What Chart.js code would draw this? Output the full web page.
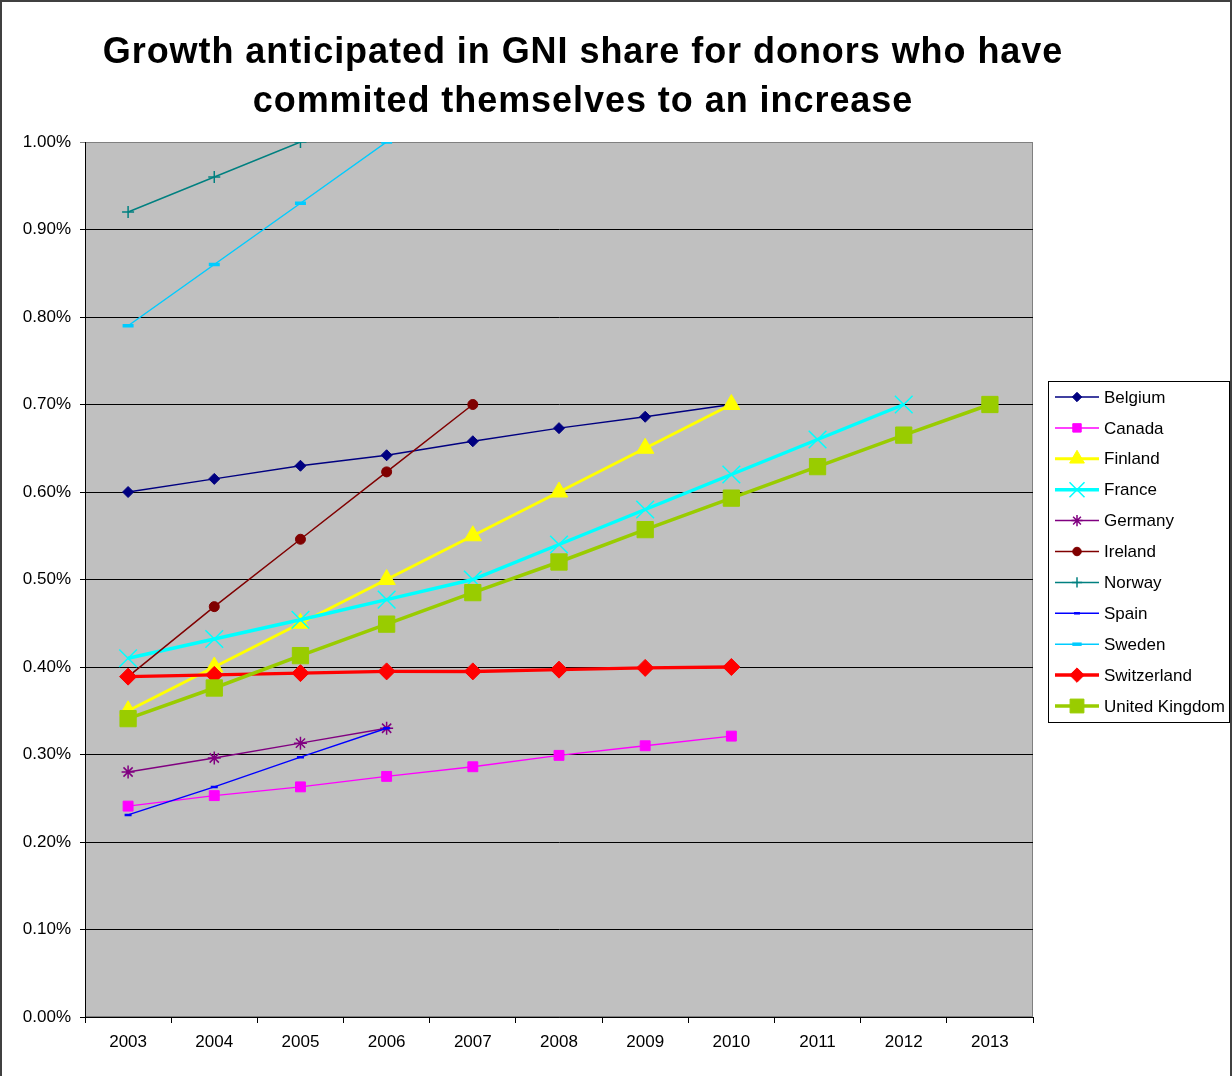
<!DOCTYPE html>
<html>
<head>
<meta charset="utf-8">
<title>GNI share growth</title>
<script src="https://cdn.jsdelivr.net/npm/chart.js@4/dist/chart.umd.min.js"></script>
<style>
    body { margin: 0; background: #fff; }
    #wrap { position: relative; width: 1232px; height: 1076px; overflow: hidden; }
    #frame { position: absolute; left: 0; top: 0; width: 1228px; height: 1090px; border: 2px solid #404040; pointer-events: none; }
    #titulo {
        position: absolute; left: 0; top: 26px; width: 1166px; text-align: center;
        font-family: 'Liberation Sans', Arial, sans-serif; font-weight: bold; font-size: 36px;
        line-height: 49px; color: #000; letter-spacing: 0.95px;
    }
    canvas { position: absolute; left: 0; top: 0; }
</style>
</head>
<body>
<div id="wrap">
    <canvas id="gniChart" width="1232" height="1076"></canvas>
    <div id="titulo">Growth anticipated in GNI share for donors who have<br>commited themselves to an increase</div>
    <div id="frame"></div>
</div>
<script>
// Data (% of GNI)
const anos = ['2003', '2004', '2005', '2006', '2007', '2008', '2009', '2010', '2011', '2012', '2013'];
const yTicks = [0, 0.1, 0.2, 0.3, 0.4, 0.5, 0.6, 0.7, 0.8, 0.9, 1.0];

const belgium     = [0.600, 0.615, 0.630, 0.642, 0.658, 0.673, 0.686, 0.700];
const canada      = [0.241, 0.253, 0.263, 0.275, 0.286, 0.299, 0.310, 0.321];
const finland     = [0.350, 0.400, 0.450, 0.500, 0.550, 0.600, 0.650, 0.700];
const france      = [0.410, 0.432, 0.454, 0.477, 0.500, 0.540, 0.580, 0.620, 0.660, 0.700];
const germany     = [0.280, 0.296, 0.313, 0.330];
const ireland     = [0.389, 0.469, 0.546, 0.623, 0.700];
const norway      = [0.920, 0.960, 1.000];
const spain       = [0.231, 0.263, 0.297, 0.330];
const sweden      = [0.790, 0.860, 0.930, 1.000];
const switzerland = [0.389, 0.391, 0.393, 0.395, 0.395, 0.397, 0.399, 0.400];
const uk          = [0.341, 0.376, 0.413, 0.449, 0.485, 0.520, 0.557, 0.593, 0.629, 0.665, 0.700];

const fonte = "'Liberation Sans', Arial, sans-serif";

// series: name, values, colour, line width, marker, marker radius, marker border
const series = [
    ['Belgium', belgium, '#000080', 1.5, 'rectRot', 5.5, 1],
    ['Canada', canada, '#FF00FF', 1.5, 'rect', 7, 1],
    ['Finland', finland, '#FFFF00', 3, 'triangle', 10, 1],
    ['France', france, '#00FFFF', 3.5, 'crossRot', 12.5, 1.5],
    ['Germany', germany, '#800080', 1.5, 'star', 6.5, 1.5],
    ['Ireland', ireland, '#800000', 1.5, 'circle', 5, 1],
    ['Norway', norway, '#008080', 1.5, 'cross', 6, 1.5],
    ['Spain', spain, '#0000FF', 1.5, 'line', 3.5, 2.5],
    ['Sweden', sweden, '#00CCFF', 1.5, 'line', 5.5, 3.5],
    ['Switzerland', switzerland, '#FF0000', 3.5, 'rectRot', 8.5, 1],
    ['United Kingdom', uk, '#99CC00', 3.5, 'rect', 11.5, 1]
];

const datasets = series.map((s, i) => ({
    label: s[0],
    data: s[1],
    borderColor: s[2],
    backgroundColor: s[2],
    borderWidth: s[3],
    pointStyle: s[4],
    pointRadius: s[5],
    pointBorderWidth: s[6],
    pointBackgroundColor: s[2],
    pointBorderColor: s[2],
    tension: 0,
    order: series.length - i   // later series on top, like Excel
}));

// grey plot area with border
const fundoPlot = {
    id: 'fundoPlot',
    beforeDraw(chart) {
        const a = chart.chartArea;
        const ctx = chart.ctx;
        ctx.save();
        ctx.fillStyle = '#C0C0C0';
        ctx.fillRect(a.left, a.top, a.right - a.left, a.bottom - a.top);
        ctx.strokeStyle = '#808080';
        ctx.lineWidth = 1;
        ctx.strokeRect(a.left + 0.5, a.top + 0.5, a.right - a.left - 1, a.bottom - a.top - 1);
        ctx.restore();
    }
};

// Excel-style legend box with line + marker samples
const legendaBox = {
    id: 'legendaBox',
    afterDraw(chart) {
        const ctx = chart.ctx;
        const x0 = 1048, y0 = 381, w = 181, h = 341;
        ctx.save();
        ctx.fillStyle = '#fff';
        ctx.fillRect(x0, y0, w, h);
        ctx.strokeStyle = '#000';
        ctx.lineWidth = 1;
        ctx.strokeRect(x0 + 0.5, y0 + 0.5, w, h);
        ctx.font = '17px ' + fonte;
        ctx.textBaseline = 'middle';
        chart.data.datasets.forEach((ds, i) => {
            const y = y0 + 16 + i * 30.9;
            ctx.strokeStyle = ds.borderColor;
            ctx.lineWidth = ds.borderWidth;
            ctx.beginPath();
            ctx.moveTo(1055, y);
            ctx.lineTo(1099, y);
            ctx.stroke();
            ctx.fillStyle = ds.pointBackgroundColor;
            ctx.strokeStyle = ds.pointBorderColor;
            ctx.lineWidth = ds.pointBorderWidth;
            Chart.helpers.drawPoint(ctx, {
                pointStyle: ds.pointStyle,
                radius: ds.pointRadius * 0.85,
                borderWidth: ds.pointBorderWidth,
                rotation: 0
            }, 1077, y);
            ctx.fillStyle = '#000';
            ctx.fillText(ds.label, 1104, y + 1);
        });
        ctx.restore();
    }
};

new Chart(document.getElementById('gniChart'), {
    type: 'line',
    data: { labels: anos, datasets: datasets },
    plugins: [fundoPlot, legendaBox],
    options: {
        responsive: false,
        animation: false,
        devicePixelRatio: 1,
        layout: { padding: { left: 0, top: 142, right: 199, bottom: 0 } },
        plugins: {
            legend: { display: false },
            title: { display: false },
            tooltip: { enabled: false }
        },
        scales: {
            x: {
                offset: true,
                afterFit: scale => { scale.height = 59; },
                border: { color: '#000', width: 1 },
                grid: { offset: true, drawOnChartArea: false, drawTicks: true, tickLength: 6, color: '#000' },
                ticks: { color: '#000', padding: 9, maxRotation: 0, font: { family: fonte, size: 17 } }
            },
            y: {
                min: 0,
                max: 1,
                afterFit: scale => { scale.width = 85; },
                afterBuildTicks: scale => { scale.ticks = yTicks.map(v => ({ value: v })); },
                border: { color: '#000', width: 1 },
                grid: {
                    color: ctx => (ctx.tick && ctx.tick.value === 1 ? '#808080' : '#000'),
                    tickLength: 5,
                    drawTicks: true
                },
                ticks: {
                    color: '#000',
                    padding: 9,
                    font: { family: fonte, size: 17 },
                    callback: value => value.toFixed(2) + '%'
                }
            }
        }
    }
});
</script>
</body>
</html>
